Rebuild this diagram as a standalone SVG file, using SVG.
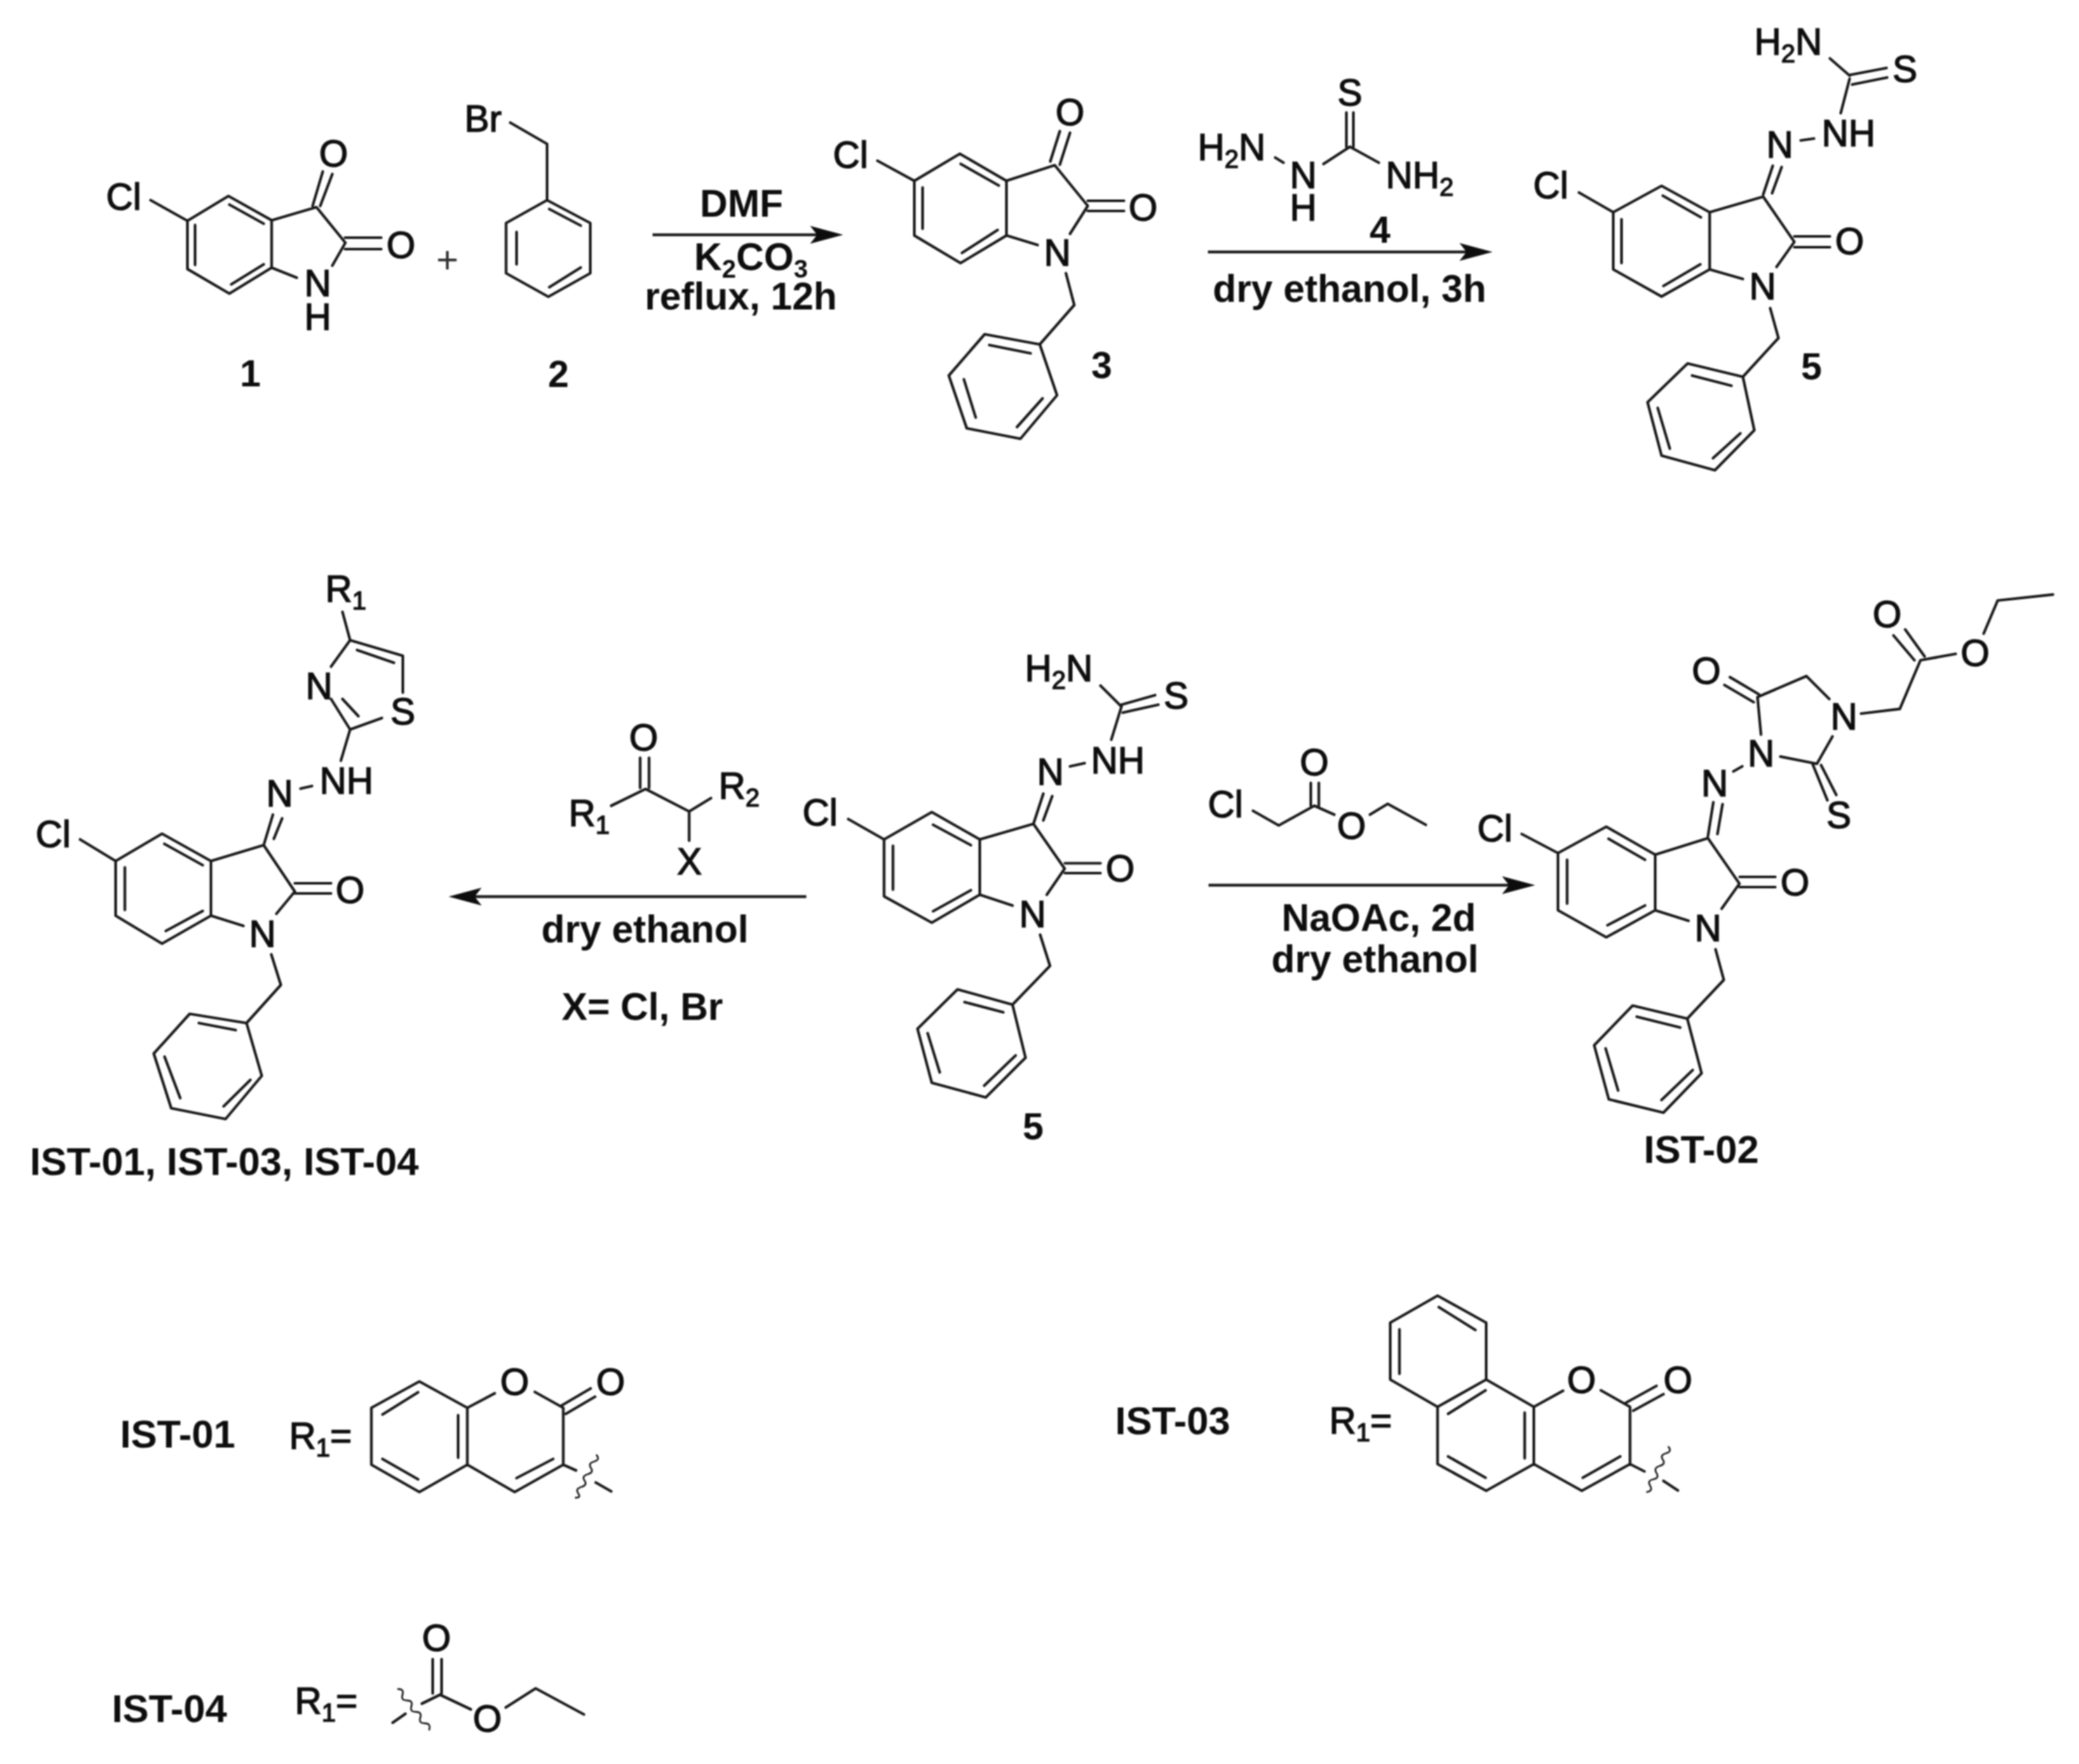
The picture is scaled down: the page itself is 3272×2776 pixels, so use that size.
<svg xmlns="http://www.w3.org/2000/svg" width="3272" height="2776" viewBox="0 0 3272 2776">
<style>
text{font-family:"Liberation Sans",Arial,sans-serif;fill:#0a0a0a}
.a{font-size:58.500px;text-anchor:middle;stroke:#0a0a0a;stroke-width:1.500px}
.l{font-size:58.500px;stroke:#0a0a0a;stroke-width:1.500px}
.r{font-size:61.500px;font-weight:700}
.m{font-size:60.500px;font-weight:700;text-anchor:middle}
.n{font-size:59px;font-weight:700;text-anchor:middle}
.s{font-size:40px}
.p{font-size:60px;text-anchor:middle;fill:#333}
.b{fill:none;stroke:#141414;stroke-width:4.200;stroke-linecap:round;stroke-linejoin:round}
.w{fill:none;stroke:#222;stroke-width:2.800;stroke-linecap:round}
.c{fill:none;stroke:#1a1a1a;stroke-width:4.500;marker-end:url(#h)}
</style>
<defs>
<marker id="h" markerUnits="userSpaceOnUse" markerWidth="54" markerHeight="32" viewBox="0 0 54 32" refX="12" refY="16" orient="auto">
<path d="M0 2 L52 16 L0 30 L11 16 Z" fill="#0a0a0a"/>
</marker>
<filter id="soft" filterUnits="userSpaceOnUse" x="0" y="0" width="3272" height="2776"><feGaussianBlur stdDeviation="0.9"/></filter>
</defs>
<rect width="3272" height="2776" fill="#fff"/>
<g filter="url(#soft)">

<g id="connectors">
<path class="c" d="M1027 369.5H1287"/>
<path class="c" d="M1901 396.5H2309"/>
<path class="c" d="M1269 1411H746"/>
<path class="c" d="M1902 1393H2376"/>
</g>

<g id="compound-1">
<path class="b" d="M295 347.5L359.5 308.5L427.5 346.7V421.3L361 462L295 423.4ZM361 322L415 352M307 354V417M364 447.5L415 416M237 315L295 347.5M427.5 346.7L498 326L543.6 382L523 418M427.5 421.3L467 437M492 324L508 270M504 324L523 274M543 374H600M543 392H600"/>
<text class="l" x="167" y="330">Cl</text>
<text class="a" x="525" y="262">O</text>
<text class="a" x="631" y="406">O</text>
<text class="a" x="500" y="466">N</text>
<text class="a" x="500" y="519">H</text>
<text class="n" x="394" y="608">1</text>
</g>

<text class="p" x="704" y="429">+</text>

<g id="compound-2">
<path class="b" d="M803 193L861 226.5V315L929 351V430L863 467L796.5 430V351L861 315M864.5 329L914 355M813 365V416M864.5 452L914 421"/>
<text class="l" x="731" y="207">Br</text>
<text class="n" x="879" y="609">2</text>
</g>

<g id="reagents-1">
<text class="m" x="1167" y="341">DMF</text>
<text class="m" x="1182" y="425">K<tspan class="s" dy="12">2</tspan><tspan dy="-12">CO</tspan><tspan class="s" dy="12">3</tspan></text>
<text class="m" x="1166" y="487">reflux, 12h</text>
</g>

<g id="compound-3">
<path class="b" d="M1439 284.6L1510.6 242L1584 284.6V370.6L1511.7 414L1439 370.6ZM1512 258L1572 292M1452 295V360M1514 398L1570 362M1381 253L1439 284.6M1584 284.6L1660 260L1712 324L1684 368M1584 370.6L1633 385.6M1653 254L1668 206.5M1668 259L1684 209M1712 316H1769M1712 332H1769M1677.6 430L1690.7 480L1636.4 542L1549.7 526L1493.3 591L1521.5 674L1606 690.5L1663.6 622L1636.4 542M1622 556L1557 543M1517 597L1535.6 657M1600.6 672L1640.8 627"/>
<text class="l" x="1311" y="264">Cl</text>
<text class="a" x="1684" y="197">O</text>
<text class="a" x="1799" y="347">O</text>
<text class="a" x="1664" y="418">N</text>
<text class="n" x="1734" y="595">3</text>
</g>

<g id="compound-4">
<path class="b" d="M2119 177V231M2130 177V231M2124.5 231L2083 258M2124.5 231L2170 256M2007 248L2020 256"/>
<text class="a" x="2124.5" y="166">S</text>
<text class="a" x="2051" y="296">N</text>
<text class="a" x="2051" y="347">H</text>
<text class="l" x="2181" y="296">NH<tspan class="s" dy="12">2</tspan></text>
<text class="l" x="1885" y="252">H<tspan class="s" dy="12">2</tspan><tspan dy="-12">N</tspan></text>
<text class="n" x="2172" y="382">4</text>
<text class="m" x="2124" y="475">dry ethanol, 3h</text>
</g>

<g id="compound-5-top">
<path class="b" d="M2539 334L2615 292.5L2690.7 334V424L2615 466.7L2539 424ZM2617 308L2677 342M2552 345V414M2618 450L2676 416M2485 303L2539 334M2690.7 334L2775 309.5L2824 380.6L2796 420M2690.7 424L2743 439M2775 306L2790 261M2789 304L2804 263M2824 372H2880M2824 389H2880M2786 485L2799 532L2743 593L2656 572L2593 633L2615 717L2699 740L2761 677L2743 593M2725 607L2663 591M2609 642L2628 706M2696 721L2739 682M2834 221L2855 218M2897 178L2911 124M2911 118L2969 107M2915 133L2970 122M2880 92L2911 119"/>
<text class="l" x="2413" y="312">Cl</text>
<text class="a" x="2801" y="248">N</text>
<text class="l" x="2867" y="230">NH</text>
<text class="a" x="2998" y="129">S</text>
<text class="l" x="2761" y="86">H<tspan class="s" dy="12">2</tspan><tspan dy="-12">N</tspan></text>
<text class="a" x="2911" y="400">O</text>
<text class="a" x="2774" y="471">N</text>
<text class="n" x="2851" y="597">5</text>
</g>

<g id="compound-IST-01-03-04">
<path class="b" d="M182 1355L255 1312L332 1355V1441L255 1485L182 1441ZM258.700 1328L319 1361.5M196.500 1365V1432M261 1465L319 1433.600M126 1321L182 1355M332 1355L415 1330L464 1403L435 1438M332 1441L383 1457M415 1330L429.500 1282M431 1320L444 1288M464 1390H521M464 1406H521M427 1502L442 1550L388 1610L298.500 1595.500L242 1658L269.500 1744L355 1761L412 1693L388 1610M371 1621L313 1610M259 1663L283.600 1728M352 1741L394 1699.500M473 1241L491 1237M536.500 1197L551 1148L521 1100M539 1100L564 1127M551 1148L601 1130M634 1090V1032L551 1007.500L521 1049M562 1023L620 1043M539 963L551 1007.500"/>
<text class="l" x="512" y="947">R<tspan class="s" dy="12">1</tspan></text>
<text class="a" x="634" y="1140">S</text>
<text class="a" x="502" y="1100">N</text>
<text class="l" x="503" y="1249">NH</text>
<text class="a" x="440" y="1269">N</text>
<text class="l" x="56" y="1333">Cl</text>
<text class="a" x="551" y="1421">O</text>
<text class="a" x="413" y="1490">N</text>
<text class="r" x="47" y="1849">IST-01, IST-03, IST-04</text>
</g>

<g id="reagents-2">
<path class="b" d="M1007.500 1192.500V1240M1021.500 1192.500V1240M962 1268L1016 1241.600L1084.600 1277L1119 1256M1084.600 1277V1323"/>
<text class="a" x="1013" y="1181">O</text>
<text class="l" x="895" y="1300">R<tspan class="s" dy="12">1</tspan></text>
<text class="l" x="1131" y="1257">R<tspan class="s" dy="12">2</tspan></text>
<text class="a" x="1085" y="1376">X</text>
<text class="m" x="1015" y="1483">dry ethanol</text>
<text class="m" x="1011" y="1605">X= Cl, Br</text>
</g>

<g id="compound-5-middle">
<path class="b" d="M1391.400 1321L1466.500 1278L1542 1321V1408L1466.500 1452L1391.400 1410.600ZM1468.600 1298L1528 1330M1405.400 1331V1400M1468.600 1434L1528 1401M1335 1289L1391.400 1321M1542 1321L1626.500 1296.500L1675.600 1367L1647.500 1408M1542 1408L1593.500 1425M1626.500 1296.500L1642 1249M1642 1291L1656 1253M1676 1358.500H1732M1676 1374H1732M1637 1471L1652.500 1520L1593.500 1581L1507 1557L1444 1619L1466.500 1704L1551.400 1727L1614 1664.600L1593.500 1581M1579 1593L1518 1577M1460 1626L1479 1687.600M1549 1708.500L1598.400 1661M1684 1206L1707 1201M1749 1164L1765 1112M1732 1079L1765 1112M1765 1109L1818 1094M1767 1121.500L1823 1109"/>
<text class="l" x="1613" y="1072">H<tspan class="s" dy="12">2</tspan><tspan dy="-12">N</tspan></text>
<text class="a" x="1851" y="1115">S</text>
<text class="l" x="1717" y="1217">NH</text>
<text class="a" x="1653" y="1235">N</text>
<text class="l" x="1263" y="1299">Cl</text>
<text class="a" x="1763" y="1387">O</text>
<text class="a" x="1625" y="1459">N</text>
<text class="n" x="1626" y="1793">5</text>
</g>

<g id="reagents-3">
<path class="b" d="M1972 1276L2012.500 1299L2068.600 1268L2100 1282M2063 1232V1268M2075.600 1232V1268M2156 1282L2184 1265L2244 1298"/>
<text class="l" x="1901" y="1286">Cl</text>
<text class="a" x="2068.600" y="1220">O</text>
<text class="a" x="2127" y="1320">O</text>
<text class="m" x="2170" y="1465">NaOAc, 2d</text>
<text class="m" x="2164" y="1530">dry ethanol</text>
</g>

<g id="compound-IST-02">
<path class="b" d="M2452 1342.500L2528 1301L2605 1345V1432.500L2528 1475L2452 1432.500ZM2531.600 1320L2589 1353M2466.400 1353V1422M2530 1456L2589 1425M2395 1312.500L2452 1342.500M2605 1345L2688 1319L2737.600 1390.600L2709.600 1430M2605 1432.500L2657.400 1449M2688 1316L2696.500 1262.500M2703 1312.500L2711 1265.600M2728 1214L2742 1206M2771.500 1156L2766 1097L2843 1064L2879 1100M2760 1105L2714 1078M2768 1092.500L2722.600 1065.600M2802 1190.600L2859.500 1202L2884 1159M2853 1203L2876 1259.400M2866 1204L2890 1251M2929 1123L2990 1115.600L3022.500 1039L3078 1029M3013 1039L2980 1000M3029 1033L2998.400 990.600M3122 997L3144 945L3231 935.600M2738 1380H2794M2738 1396H2794M2700 1494L2713 1542L2655.500 1603L2569.400 1582.500L2509 1645L2532 1730L2618 1751L2678 1689L2655.500 1603M2644.400 1617L2576 1600M2527 1650L2546.600 1716M2615 1731L2664 1684"/>
<text class="l" x="2325" y="1324">Cl</text>
<text class="a" x="2698.500" y="1253">N</text>
<text class="a" x="2771.500" y="1206">N</text>
<text class="a" x="2685.500" y="1076">O</text>
<text class="a" x="2902" y="1148">N</text>
<text class="a" x="2894" y="1303">S</text>
<text class="a" x="2970" y="987">O</text>
<text class="a" x="3108.500" y="1048">O</text>
<text class="a" x="2825" y="1409">O</text>
<text class="a" x="2688" y="1481">N</text>
<text class="r" x="2587" y="1830">IST-02</text>
</g>

<g id="r1-IST-01">
<text class="r" x="189" y="2278">IST-01</text>
<text class="l" x="455" y="2280">R<tspan class="s" dy="12">1</tspan><tspan dy="-12">=</tspan></text>
<path class="b" d="M660 2174L584.500 2215.500V2305L660 2348L735.500 2305V2215.500ZM658 2191L602 2226M602 2296L658 2328M721 2227V2294M735.500 2215.500L778.600 2192.700M841.700 2190.500L886.500 2215.500V2305L810 2348L735.500 2305M870.500 2296L813 2326M883.600 2212L929.600 2185M890.500 2225L936.500 2198M886.500 2305L906.600 2314M937.600 2333L962 2347"/>
<path class="w" d="M939 2290q6 7 -4 10t-5 10t-5 10t-5 10t-5 10t-5 10t-4 7"/>
<text class="a" x="810" y="2195">O</text>
<text class="a" x="961" y="2195">O</text>
</g>

<g id="r1-IST-03">
<text class="r" x="1755" y="2257">IST-03</text>
<text class="l" x="2092" y="2256">R<tspan class="s" dy="12">1</tspan><tspan dy="-12">=</tspan></text>
<path class="b" d="M2262.500 2039L2339 2081.500V2171L2262.500 2214L2188 2171V2081.500ZM2264.400 2057L2322 2093M2202.500 2092V2162M2279 2225L2338 2188M2339 2171L2414 2214V2304L2339 2346L2262.500 2304V2214M2399.600 2223V2295M2279 2292L2338 2325.500M2414 2214L2460 2188.600M2519.500 2188L2565.400 2214V2304L2489.500 2346L2414 2304M2550 2292L2491 2325.500M2558 2208L2607 2181M2570.500 2220L2618 2194M2565.400 2304L2588 2315.500M2618 2330.500L2640.700 2345.600"/>
<path class="w" d="M2626 2277q6 7 -4 10t-5 10t-5 10t-5 11t-5 10t-5 10t-5 10"/>
<text class="a" x="2489" y="2192">O</text>
<text class="a" x="2640.700" y="2192">O</text>
</g>

<g id="r1-IST-04">
<text class="r" x="176" y="2710">IST-04</text>
<text class="l" x="464" y="2697">R<tspan class="s" dy="12">1</tspan><tspan dy="-12">=</tspan></text>
<path class="b" d="M681 2611V2665M695 2611V2665M692.500 2667L741 2690M796 2687L843 2657L919 2698M692.500 2667L664 2681M638 2697L618 2711"/>
<path class="w" d="M626.500 2658q10 0 7 9t7 9t7 9t7 9t7 9t7 9t7 10"/>
<text class="a" x="687" y="2598">O</text>
<text class="a" x="767" y="2725">O</text>
</g>
</g>
</svg>
